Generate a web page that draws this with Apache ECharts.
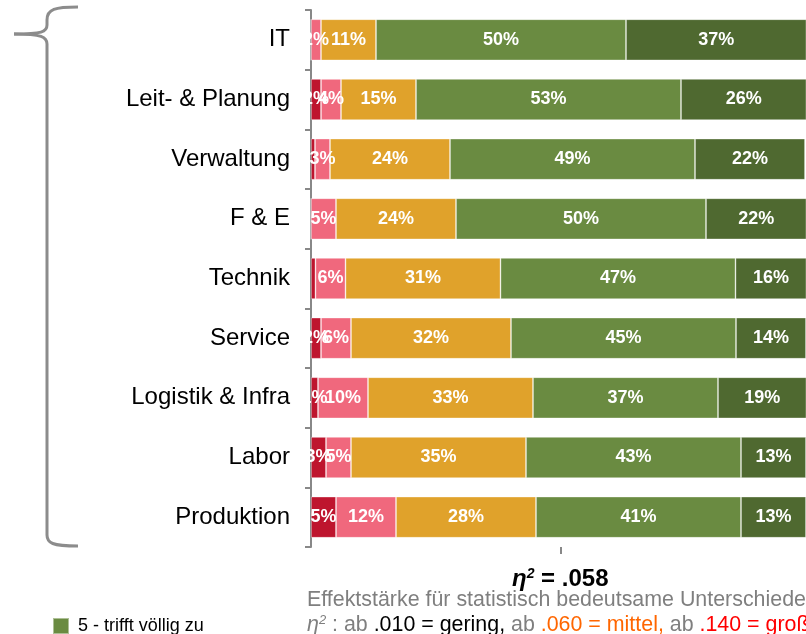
<!DOCTYPE html>
<html>
<head>
<meta charset="utf-8">
<script src="https://cdn.jsdelivr.net/npm/echarts@6/dist/echarts.min.js"></script>
<style>
	html, body { margin: 0; padding: 0; background: #fff; }
	#chart { width: 806px; height: 634px; }
</style>
</head>
<body>
<div id="chart"></div>
<script>
	// Bereiche, von oben nach unten
	var categories = ['IT', 'Leit- & Planung', 'Verwaltung', 'F & E', 'Technik', 'Service', 'Logistik & Infra', 'Labor', 'Produktion'];
	var seriesNames = ['1 - trifft gar nicht zu', '2 - trifft eher nicht zu', '3 - teils/teils', '4 - trifft eher zu', '5 - trifft völlig zu'];
	// Anteile in %
	var val1 = [0, 2, 0.8, 0, 0.9, 2, 1.4, 3, 5];
	var val2 = [2, 4, 3, 5, 6, 6, 10, 5, 12];
	var val3 = [11, 15, 24, 24, 31, 32, 33, 35, 28];
	var val4 = [50, 53, 49, 50, 47, 45, 37, 43, 41];
	var val5 = [37, 26, 22, 22, 16, 14, 19, 13, 13];
	var colors = ['#BE152E', '#F0687D', '#E0A22B', '#6A8B41', '#4F6930'];
	var etaValue = '.058';

	var font = "'Liberation Sans', Arial, sans-serif";

	var chart = echarts.init(document.getElementById('chart'));

	var allVals = [val1, val2, val3, val4, val5];
	var series = [];
	for (var i = 0; i < 5; i++) {
		series.push({
			name: seriesNames[i],
			type: 'bar',
			stack: 'all',
			barCategoryGap: '31%',
			itemStyle: {
				color: colors[i],
				borderColor: 'rgba(255,255,255,0.45)',
				borderWidth: 0.8
			},
			label: {
				show: true,
				position: 'inside',
				color: '#fff',
				fontFamily: font,
				fontWeight: 'bold',
				fontSize: 18,
				formatter: function (p) {
					return p.value < 1 ? '' : Math.round(p.value) + '%';
				}
			},
			data: allVals[i]
		});
	}

	// geschweifte Klammer links
	var braceStyle = { fill: null, stroke: '#8c8c8c', lineWidth: 3 };
	function curve(x1, y1, c1x, c1y, c2x, c2y, x2, y2) {
		return { type: 'bezierCurve', shape: { x1: x1, y1: y1, cpx1: c1x, cpy1: c1y, cpx2: c2x, cpy2: c2y, x2: x2, y2: y2 }, style: braceStyle };
	}
	function line(x1, y1, x2, y2) {
		return { type: 'line', shape: { x1: x1, y1: y1, x2: x2, y2: y2 }, style: braceStyle };
	}

	var option = {
		animation: false,
		// 100% liegt knapp rechts ausserhalb des Bildes
		grid: { left: 311, right: 0, top: 10, bottom: 87 },
		legend: {
			// im Original ist das Legendenfeld hellgruen
			data: [{ name: seriesNames[4], itemStyle: { color: colors[3] } }],
			orient: 'vertical',
			left: 52,
			top: 617,
			padding: 0,
			itemWidth: 16,
			itemHeight: 16,
			itemGap: 10,
			icon: 'rect',
			selectedMode: false,
			textStyle: { fontFamily: font, fontSize: 18, color: '#000', padding: [0, 0, 0, 4] }
		},
		xAxis: {
			type: 'value',
			min: 0,
			max: 99,
			interval: 50,
			axisLine: { show: false },
			axisTick: { show: true, customValues: [50], length: 7, lineStyle: { color: '#888', width: 2 } },
			axisLabel: { show: false },
			splitLine: { show: true, showMaxLine: false, lineStyle: { color: '#808080', width: 2 } }
		},
		yAxis: {
			type: 'category',
			inverse: true,
			data: categories,
			axisLine: { show: true, lineStyle: { color: '#888', width: 2 } },
			axisTick: { show: true, length: 6, lineStyle: { color: '#888', width: 2 } },
			axisLabel: { color: '#000', fontFamily: font, fontSize: 24, margin: 21 }
		},
		graphic: [
			curve(78, 7, 55, 7, 47, 9, 47, 20),
			line(47, 20, 47, 25),
			curve(47, 25, 47, 32, 42, 34, 14, 34),
			curve(14, 34, 42, 34, 47, 37, 47, 44),
			line(47, 44, 47, 535),
			curve(47, 535, 47, 543, 52, 546, 78, 546),
			{
				type: 'text',
				left: 512,
				top: 567,
				style: {
					text: '{e|η}{s|2}{b| = ' + etaValue + '}',
					rich: {
						e: { fontFamily: font, fontSize: 24, fontWeight: 'bold', fontStyle: 'italic', fill: '#000' },
						s: { fontFamily: font, fontSize: 14, fontWeight: 'bold', fontStyle: 'italic', fill: '#000', padding: [0, 0, 11, 0] },
						b: { fontFamily: font, fontSize: 24, fontWeight: 'bold', fill: '#000' }
					}
				}
			},
			{
				type: 'text',
				left: 307,
				top: 590,
				style: {
					text: 'Effektstärke für statistisch bedeutsame Unterschiede',
					font: '21.4px ' + font,
					fill: '#7f7f7f'
				}
			},
			{
				type: 'text',
				left: 307,
				top: 614,
				style: {
					text: '{gi|η}{sg|2}{g| : ab }{k|.010 = gering, }{g|ab }{o|.060 = mittel, }{g|ab }{r|.140 = groß}',
					rich: {
						gi: { fontFamily: font, fontSize: 21.4, fontStyle: 'italic', fill: '#7f7f7f' },
						g: { fontFamily: font, fontSize: 21.4, fill: '#7f7f7f' },
						sg: { fontFamily: font, fontSize: 13, fontStyle: 'italic', fill: '#7f7f7f', padding: [0, 0, 10, 0] },
						k: { fontFamily: font, fontSize: 21.4, fill: '#000' },
						o: { fontFamily: font, fontSize: 21.4, fill: '#FF6600' },
						r: { fontFamily: font, fontSize: 21.4, fill: '#FF0000' }
					}
				}
			}
		],
		series: series
	};

	chart.setOption(option);
</script>
</body>
</html>
